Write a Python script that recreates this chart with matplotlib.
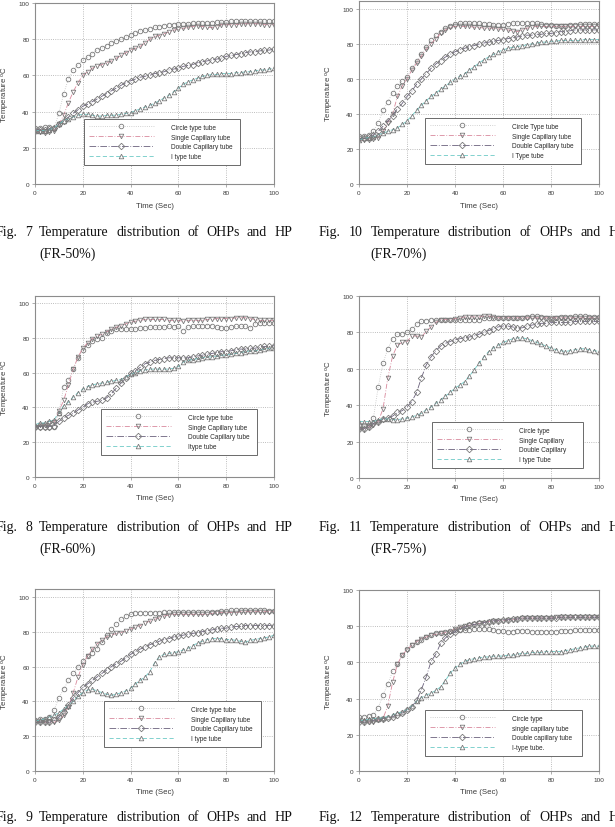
import matplotlib
matplotlib.use('Agg')
import matplotlib.pyplot as plt

plt.rcParams['font.family'] = 'Liberation Sans'
plt.rcParams['mathtext.fontset'] = 'custom'
plt.rcParams['mathtext.rm'] = 'Liberation Sans'

W, H = 615, 828

# time axis (sec), one reading every 2 s
time = list(range(0, 101, 2))

# ---- Fig. 7 (FR-50%) ----
fr50_circle = [31, 31, 31.5, 31.5, 31, 39, 50, 58, 63, 66, 68.5, 70, 72, 74, 75,
               76.5, 78, 79, 80, 81, 82.5, 83.5, 84.5, 85, 85.5, 86.5, 87, 87.5, 88, 88,
               88.5, 88.5, 88.5, 89, 89, 89, 89, 89, 89.5, 89.5, 89.5, 90, 90, 90, 90,
               90, 90, 90, 90, 90, 90]
fr50_single = [28.5, 28.5, 28, 28.5, 29.5, 33, 38, 45, 51, 56, 60, 62, 64, 65, 66,
               67, 68, 69.5, 71, 72.5, 74, 75, 76, 78, 80, 81.5, 82, 83, 84, 85,
               85.5, 86, 86.5, 87, 87.5, 87, 86.5, 86.5, 87, 88, 88, 88, 88, 88.5, 88.5,
               88.5, 88.5, 88.5, 88, 88, 88]
fr50_double = [30, 30, 30, 30.5, 31, 33, 35, 37, 39, 41, 43, 44, 45.5, 47, 48.5,
               50, 51.5, 53, 54.5, 56, 57, 58, 59, 59.5, 60, 61, 61.5, 62, 63, 63.5,
               64, 65, 65.5, 66, 67, 67.5, 68, 68.5, 69, 69.5, 70.5, 71, 71.5, 72, 72.5,
               73, 73, 73.5, 74, 74, 74.5]
fr50_itype = [29.5, 29.5, 29.5, 30, 31, 33, 35, 36, 37, 38, 38.5, 38.5, 38, 37.5, 37.5,
              38, 38, 38, 38.5, 39, 39.5, 40.5, 41.5, 42.5, 43.5, 44.5, 46, 47.5, 49, 51,
              53, 55, 56.5, 57.5, 58.5, 59.5, 60, 60.5, 60.5, 61, 61, 61, 61.5, 61.5, 62,
              62, 62.5, 63, 63, 63.5, 64]

# ---- Fig. 10 (FR-70%) ----
fr70_circle = [27.5, 27.5, 28, 30, 35, 42, 47, 52, 56, 59, 61, 66, 70, 74.5, 78,
               82, 85, 87, 89, 90.5, 91.5, 92, 92, 92, 92, 92, 91.5, 91.5, 91, 91,
               91, 91.5, 92, 92, 92, 92, 92, 92, 91.5, 91, 91, 90.5, 90.5, 90.5, 91,
               91, 91.5, 91.5, 91.5, 91.5, 91.5]
fr70_single = [25, 25, 25, 25.5, 26.5, 30, 35, 40, 50, 56, 60, 65, 69, 73, 77,
               80, 83, 86, 88, 89.5, 90, 90, 90, 90, 89.5, 89.5, 89, 89, 89, 88.5,
               88.5, 88, 87.5, 87, 88, 89, 89.5, 90, 90, 90, 90, 90, 90, 90, 90,
               90, 90, 90, 90, 90, 90]
fr70_double = [26, 26, 27, 28, 30, 33, 36, 39, 43, 46, 50, 53, 57, 60, 63,
               66, 68.5, 70.5, 72.5, 74, 75.5, 76.5, 77.5, 78.5, 79, 80, 80.5, 81, 81.5, 82,
               82.5, 83, 83.5, 84, 84.5, 85, 85, 85.5, 85.5, 86, 86, 86.5, 87, 87, 87.5,
               88, 88, 88, 88, 88, 88]
fr70_itype = [25, 26, 26.5, 27, 28, 29, 30, 31, 32, 34, 36, 39, 42, 45, 47.5,
              50, 52, 54, 56, 58, 60, 61.5, 63, 65, 67, 69, 71, 72.5, 74, 75.5,
              76.5, 77.5, 78, 78.5, 79, 79.5, 80, 80.5, 81, 81, 81.5, 81.5, 82, 82, 82,
              82, 82, 82.5, 82.5, 82.5, 82.5]

# ---- Fig. 8 (FR-60%) ----
fr60_circle = [29, 29, 29, 29, 29, 37, 52, 56, 62, 68.5, 73, 76, 78, 79.5, 80,
               83, 84, 85, 85, 85, 85, 85, 85.5, 85.5, 86, 86, 86, 86, 86.5, 86,
               86.5, 84, 86, 86.5, 87, 87, 87, 87, 86, 85.5, 85.5, 86, 86.5, 86.5, 86.5,
               85.5, 88, 88.5, 88.5, 88.5, 88.5]
fr60_single = [29, 30, 30, 31, 31.5, 38, 44, 53, 62, 69, 74, 77, 79.5, 81, 82,
               83.5, 85, 86, 87, 88, 89, 89.5, 90, 90.5, 90.5, 90.5, 90.5, 90.5, 90, 90,
               90, 89.5, 90, 90, 90, 90, 90.5, 90.5, 91, 91, 91, 91, 91.5, 91.5, 91.5,
               91, 90.5, 90, 90, 90, 90]
fr60_double = [29, 29, 29, 29, 29.5, 32, 34, 35.5, 36.5, 38.5, 40, 42, 43, 43.5, 44,
               45.5, 48, 51, 54, 57, 59.5, 61, 63, 65, 66, 67, 67.5, 68, 68.5, 68.5,
               68.5, 68.5, 68.5, 69, 69.5, 70, 70.5, 71, 71.5, 72, 72, 72.5, 73, 73.5, 73.5,
               74, 74, 74.5, 75, 75, 75.5]
fr60_itype = [30, 31, 31, 32, 33, 37, 41, 43, 46, 48.5, 50.5, 52, 53, 53.5, 54,
              54.5, 55, 55.5, 56, 57.5, 59, 60, 61, 61.5, 62, 62, 62, 62, 62, 62.5,
              63.5, 66, 67, 67.5, 68, 68.5, 69, 69, 69.5, 70, 70, 70.5, 71, 71.5, 72,
              72.5, 72.5, 73, 73.5, 74, 74]

# ---- Fig. 11 (FR-75%) ----
fr75_circle = [29, 29, 29, 33, 50, 63, 71, 76.5, 79, 79, 80, 82, 84.5, 86, 86.5,
               87, 87, 87, 87, 87, 87, 87, 87, 87, 87, 87, 88, 88, 88, 88,
               88, 88, 88, 88, 88, 88.5, 89, 89, 88.5, 88, 87.5, 88, 88.5, 88.5, 88.5,
               89, 89, 89, 88.5, 88.5, 88.5]
fr75_single = [27, 27, 28, 29, 31, 38, 55, 67, 73, 74.5, 75, 78, 78, 77.5, 80.5,
               83, 85.5, 87, 87, 87, 87.5, 88, 88.5, 88.5, 88.5, 88.5, 89, 89, 88.5, 88,
               88, 88, 88, 88, 88, 88, 88, 88, 88, 88, 88, 88, 88, 88, 88,
               88, 88, 88, 88, 88, 88]
fr75_double = [27, 27, 28, 30, 31, 32.5, 33, 34, 36, 37, 39, 42, 47, 55, 62,
               66.5, 70, 72.5, 74, 75, 76, 76.5, 77, 77.5, 78, 79, 80, 81, 82, 83,
               83.5, 83.5, 83, 82.5, 82.5, 83.5, 84, 84.5, 85, 85, 85.5, 85.5, 85.5, 85.5, 85.5,
               86, 86, 86, 86, 86, 86]
fr75_itype = [31, 31, 31, 31, 32, 32.5, 32.5, 32, 32, 32.5, 33, 33.5, 34.5, 35.5, 37.5,
              39, 41, 43, 45, 47, 49.5, 51, 53, 56, 59.5, 63, 66.5, 69.5, 71.5, 73,
              74.5, 75.5, 76.5, 77, 77, 76.5, 75.5, 74.5, 73.5, 72.5, 71.5, 70.5, 70, 69.5, 70,
              70.5, 71, 71, 70.5, 70, 69.5]

# ---- Fig. 9 ----
fig9_circle = [29, 30, 30, 31, 35, 42, 47, 52, 56, 60, 63, 66, 68, 70, 74,
               78, 81.5, 84.5, 87, 89, 90, 91, 91, 91, 91, 91, 91, 91.5, 91.5, 91.5,
               91.5, 91.5, 91.5, 91.5, 91.5, 91.5, 91.5, 91.5, 91.5, 92, 92, 92.5, 92.5, 92.5, 92.5,
               92.5, 92.5, 92.5, 92.5, 92, 92]
fig9_single = [28, 28, 28, 28, 28, 29, 32, 37, 45, 54, 61, 66, 70, 73, 75,
               77, 78, 79, 79.5, 80.5, 81.5, 82.5, 83.5, 85, 86, 87, 88, 89, 89.5, 90,
               90, 90, 90, 90, 90, 90, 90, 90.5, 91, 91, 91, 91, 91, 91.5, 91.5,
               91.5, 91.5, 91.5, 91.5, 91.5, 91.5]
fig9_double = [28, 28, 28, 28, 29, 31, 34, 38, 42, 45, 48, 50, 52, 54, 56,
               58, 60, 61.5, 63, 65, 67, 68.5, 70, 71, 72.5, 73.5, 74.5, 75.5, 76, 77,
               77.5, 78, 78.5, 79, 79.5, 80, 80.5, 81, 81.5, 82, 82, 82.5, 83, 83, 83.5,
               83.5, 83.5, 83.5, 83.5, 83.5, 83.5]
fig9_itype = [29, 29, 30, 31, 32, 33.5, 35.5, 37.5, 40, 43, 45, 46.5, 47, 46, 45,
              44, 43.5, 44, 45, 46, 47.5, 50, 52, 54, 57, 62, 65.5, 67, 67.5, 68,
              68.5, 69.5, 70.5, 72, 73.5, 74.5, 75.5, 76, 76, 76, 75.5, 75.5, 75, 74.5, 74,
              75, 75.5, 76, 76.5, 77, 78]

# ---- Fig. 12 ----
fig12_circle = [30, 30, 30.5, 31, 35, 42, 48, 55, 59, 64, 67.5, 69.5, 71, 72.5, 74,
                75, 76, 76.5, 77, 77.5, 78, 78, 78, 78, 78.5, 78.5, 78.5, 78.5, 78, 77.5,
                77.5, 77, 77, 77.5, 77.5, 77.5, 77, 77, 77, 77, 77, 77, 77.5, 77.5, 77.5,
                78, 78, 78, 78, 78, 78]
fig12_single = [28, 27, 27, 27, 28, 29, 36, 49, 59, 64, 67, 69.5, 71.5, 73, 74,
                75, 75.5, 76, 76.5, 77, 78.5, 79.5, 80, 80.5, 81, 81.5, 82, 82.5, 83, 83,
                83, 83.5, 83.5, 84, 84.5, 84.5, 84.5, 84.5, 84.5, 84.5, 84.5, 85, 85, 85, 85,
                85, 85, 85, 85, 85, 85]
fig12_double = [27, 27, 27.5, 28, 28.5, 29, 29.5, 30, 31, 32, 33.5, 35.5, 39, 45, 52,
                60.5, 64.5, 70.5, 73.5, 75.5, 77, 78.5, 79.5, 80.5, 81, 81.5, 82, 82.5, 83, 83,
                83.5, 83.5, 84, 84, 84.5, 84.5, 84.5, 84.5, 84.5, 84.5, 84.5, 84.5, 85, 85, 85,
                85, 85, 85, 85, 85, 85]
fig12_itype = [28, 28, 28.5, 29, 29, 29.5, 30, 31, 32, 32.5, 34, 36, 38.5, 40.5, 42,
               43, 44.5, 46.5, 50, 54, 57, 59, 60.5, 61.5, 62, 62.5, 63, 63, 63.5, 63.5,
               63.5, 64, 64, 64.5, 65, 65, 65.5, 65.5, 65.5, 66, 66, 66, 66, 66.5, 67,
               67.5, 68, 68.5, 69, 69, 69]

labels7 = ["Circle type tube", "Single Capillary tube", "Double Capillary tube", "I type tube"]
labels10 = ["Circle Type tube", "Single Capillary tube", "Double Capillary tube", "I Type tube"]
labels8 = ["Circle type tube", "Single Capillary tube", "Double Capillary tube", "Itype tube"]
labels11 = ["Circle type", "Single Capillary", "Double Capillary", "I type Tube"]
labels9 = ["Circle type tube", "Single Capillary tube", "Double Capillary tube", "I type tube"]
labels12 = ["Circle type", "single capillary tube", "Double capillary tube", "I-type tube."]

captions = [
    ["Fig. 7 Temperature distribution of OHPs and HP", "(FR-50%)"],
    ["Fig. 10 Temperature distribution of OHPs and HP", "(FR-70%)"],
    ["Fig. 8 Temperature distribution of OHPs and HP", "(FR-60%)"],
    ["Fig. 11 Temperature distribution of OHPs and HP", "(FR-75%)"],
    ["Fig. 9 Temperature distribution of OHPs and HP"],
    ["Fig. 12 Temperature distribution of OHPs and HP"],
]

# series styles: circle, single capillary, double capillary, I type
styles = [
    dict(marker='o', color='#c4c4c4', ls=':'),
    dict(marker='v', color='#d8889c', ls=(0, (6, 2, 1, 2))),
    dict(marker='D', color='#6a607c', ls=(0, (8, 2, 1, 2))),
    dict(marker='^', color='#6ccac6', ls=(0, (5, 3))),
]

panels = [
    ([fr50_circle, fr50_single, fr50_double, fr50_itype], labels7),
    ([fr70_circle, fr70_single, fr70_double, fr70_itype], labels10),
    ([fr60_circle, fr60_single, fr60_double, fr60_itype], labels8),
    ([fr75_circle, fr75_single, fr75_double, fr75_itype], labels11),
    ([fig9_circle, fig9_single, fig9_double, fig9_itype], labels9),
    ([fig12_circle, fig12_single, fig12_double, fig12_itype], labels12),
]

# layout in pixels: axes (left, top, right, bottom), y top limit, legend box (x0, y0, x1, y1)
layout = [
    ((35, 4, 274, 185), 100, (84, 121, 240, 166)),
    ((359, 2, 599, 185), 104.5, (425, 119, 581, 165)),
    ((35, 297, 274, 478), 104, (101, 410, 257, 456)),
    ((359, 297, 599, 479), 100, (432, 423, 583, 469)),
    ((35, 590, 274, 772), 104.5, (104, 702, 261, 748)),
    ((359, 591, 599, 772), 100, (425, 712, 582, 757)),
]
# caption baselines (px) and horizontal span of the justified first line
caption_pos = [
    (236, -4, 292), (236, 319, 626),
    (531, -4, 292), (531, 319, 626),
    (821, -4, 292), (821, 319, 626),
]

fig = plt.figure(figsize=(W / 100, H / 100), dpi=100)

for (series, labels), (box, ytop, leg) in zip(panels, layout):
    l, t, r, b = box
    ax = fig.add_axes([l / W, 1 - b / H, (r - l) / W, (b - t) / H])
    for vals, lab, st in zip(series, labels, styles):
        ax.plot(time, vals, marker=st['marker'], ls=st['ls'], color=st['color'], lw=0.6,
                ms=3.3, mfc='none', mec='#7a7a7a', mew=0.6, label=lab)
    ax.set_xlim(0, 100)
    ax.set_ylim(0, ytop)
    ax.set_xticks([0, 20, 40, 60, 80, 100])
    ax.set_yticks([0, 20, 40, 60, 80, 100])
    ax.grid(True, ls=':', color='#a8a8a8', lw=0.6)
    for sp in ax.spines.values():
        sp.set_color('#8c8c8c')
        sp.set_linewidth(0.8)
    ax.tick_params(labelsize=4.6, length=2, width=0.5, color='#8c8c8c',
                   labelcolor='#3a3a3a', pad=2)
    ax.set_xlabel('Time (Sec)', fontsize=5.6, color='#3a3a3a', labelpad=5)
    ax.set_ylabel('Temperature $\\mathregular{^{o}}$C', fontsize=5.6, color='#3a3a3a', labelpad=5)

    x0, y0, x1, y1 = leg
    bx = (x0 - l) / (r - l)
    by = (b - y1) / (b - t)
    bw = (x1 - x0) / (r - l)
    bh = (y1 - y0) / (b - t)
    lg = ax.legend(loc='lower left', bbox_to_anchor=(bx, by, bw, bh), mode='expand',
                   fontsize=4.7, handlelength=10, handletextpad=2.6, labelspacing=0.45,
                   borderpad=0.7, numpoints=1, fancybox=False, framealpha=1,
                   edgecolor='#6a6a6a', borderaxespad=0)
    lg.get_frame().set_linewidth(0.7)
    for txt in lg.get_texts():
        txt.set_color('#2a2a2a')

renderer = fig.canvas.get_renderer()


def justified(words, x0, x1, y):
    items = [fig.text(0, 1 - y / H, w, fontsize=10, family='Liberation Serif',
                      va='baseline', ha='left', color='#111111') for w in words]
    widths = [it.get_window_extent(renderer).width for it in items]
    gap = (x1 - x0 - sum(widths)) / (len(items) - 1)
    x = x0
    xs = []
    for it, w in zip(items, widths):
        it.set_x(x / W)
        xs.append(x)
        x += w + gap
    return xs


for cap, (y, x0, x1) in zip(captions, caption_pos):
    xs = justified(cap[0].split(), x0, x1, y)
    if len(cap) > 1:
        fig.text(xs[2] / W, 1 - (y + 22) / H, cap[1], fontsize=10,
                 family='Liberation Serif', va='baseline', ha='left', color='#111111')

fig.savefig('out.png', dpi=100)
